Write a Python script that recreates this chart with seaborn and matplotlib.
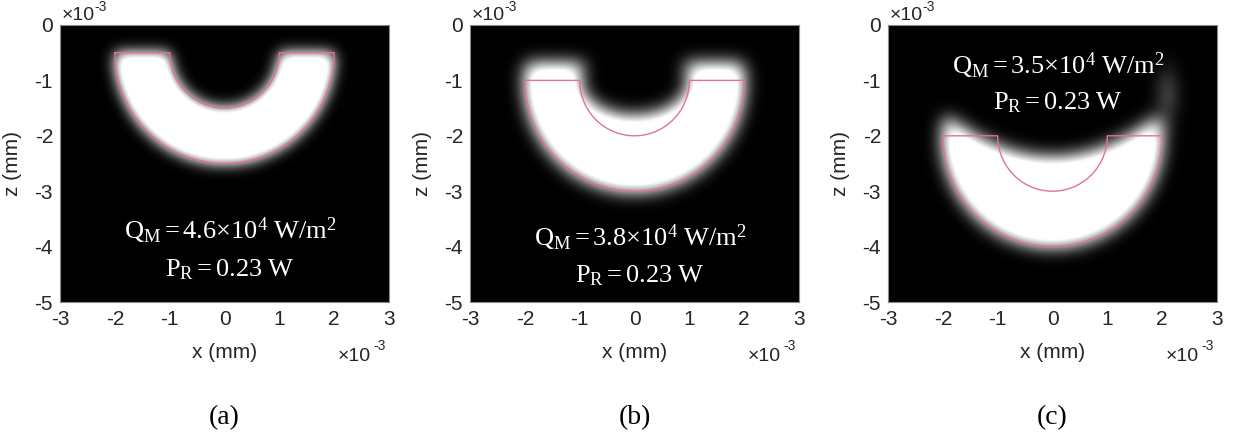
import numpy as np
import matplotlib
matplotlib.use("Agg")
import matplotlib.pyplot as plt
import seaborn as sns

# ---- geometry of the heated half-ring (mm) ----
panel_tags = ["(a)", "(b)", "(c)"]
ring_center_z = [-0.5, -1.0, -2.0]
ring_r_inner = 1.0
ring_r_outer = 2.0

# ---- temperature-field description per case ----
heat_top_z0 = [-0.50, -0.70, -2.40]     # upper cutoff of hot zone at x = 0
heat_top_curv = [0.0, 0.0, 0.20]        # curvature of that cutoff
heat_hole_ax = [1.00, 1.00, 0.00]       # cold core half-width
heat_hole_az = [1.00, 0.65, 0.00]       # cold core half-height
heat_blur = [0.13, 0.16, 0.16]          # edge softness (mm)
side_glow = [0.0, 0.0, 0.17]            # faint plume at right edge

# ---- labels ----
q_max = ["4.6", "3.8", "3.5"]
p_r = ["0.23", "0.23", "0.23"]
label_z = [(-3.72, -4.42), (-3.84, -4.52), (-0.74, -1.40)]

x_ticks = [-3, -2, -1, 0, 1, 2, 3]
z_ticks = [-5, -4, -3, -2, -1, 0]

sns.set_theme(style="white")
plt.rcParams["font.family"] = ["Liberation Sans", "DejaVu Sans"]
plt.rcParams["axes.unicode_minus"] = False
plt.rcParams["mathtext.fontset"] = "custom"
plt.rcParams["mathtext.rm"] = "Liberation Serif"
plt.rcParams["mathtext.it"] = "Liberation Serif:italic"

xg = np.linspace(-3, 3, 601)
zg = np.linspace(-5, 0, 501)
X, Z = np.meshgrid(xg, zg)
step = xg[1] - xg[0]


def gaussian_blur(img, sigma):
    s = sigma / step
    r = int(4 * s) + 1
    t = np.arange(-r, r + 1)
    k = np.exp(-0.5 * (t / s) ** 2)
    k /= k.sum()
    pad = np.pad(img, r, mode="constant")
    pad = np.apply_along_axis(lambda m: np.convolve(m, k, mode="same"), 0, pad)
    pad = np.apply_along_axis(lambda m: np.convolve(m, k, mode="same"), 1, pad)
    return pad[r:-r, r:-r]


def heat_field(i):
    zc = ring_center_z[i]
    inside_outer = X ** 2 + (Z - zc) ** 2 <= ring_r_outer ** 2
    below_top = Z <= heat_top_z0[i] + heat_top_curv[i] * X ** 2
    if heat_hole_ax[i] > 0:
        hole = (X / heat_hole_ax[i]) ** 2 + ((Z - zc) / heat_hole_az[i]) ** 2 <= 1
    else:
        hole = np.zeros_like(X, dtype=bool)
    region = (inside_outer & below_top & ~hole).astype(float)
    f = gaussian_blur(region, heat_blur[i])
    if side_glow[i] > 0:
        f += side_glow[i] * np.exp(-0.5 * (((X - 2.1) / 0.17) ** 2 + ((Z + 1.25) / 0.35) ** 2))
    return np.clip(f * 1.3, 0, 1)


def ring_outline(zc):
    a_in = np.linspace(np.pi, 2 * np.pi, 120)
    a_out = np.linspace(0, -np.pi, 240)
    xs = np.concatenate([[-ring_r_outer], ring_r_inner * np.cos(a_in),
                         [ring_r_outer], ring_r_outer * np.cos(a_out)])
    zs = np.concatenate([[zc], zc + ring_r_inner * np.sin(a_in),
                         [zc], zc + ring_r_outer * np.sin(a_out)])
    return xs, zs


fig = plt.figure(figsize=(12.39, 4.46), dpi=100)
lefts = [60, 470, 888]
W, H = 1239.0, 446.0
tick_col = "#262626"

for i in range(3):
    ax = fig.add_axes([lefts[i] / W, 1 - 302 / H, 329 / W, 277 / H])
    ax.imshow(heat_field(i), cmap="gray", vmin=0, vmax=1, origin="lower",
              extent=[-3, 3, -5, 0], aspect="auto", interpolation="bilinear")
    xs, zs = ring_outline(ring_center_z[i])
    sns.lineplot(x=xs, y=zs, sort=False, estimator=None, color="#e0709f",
                 lw=1.0, ax=ax, legend=False)
    ax.set_xlim(-3, 3)
    ax.set_ylim(-5, 0)
    ax.set_xticks(x_ticks)
    ax.set_yticks(z_ticks)
    ax.set_xticklabels([str(v) for v in x_ticks])
    ax.set_yticklabels([str(v) for v in z_ticks])
    ax.tick_params(length=0, labelsize=15, colors=tick_col)
    ax.tick_params(axis="x", pad=6)
    ax.tick_params(axis="y", pad=5)
    for sp in ax.spines.values():
        sp.set_color("#8c8c8c")
        sp.set_linewidth(0.8)
    ax.set_xlabel("x (mm)", fontsize=15, color=tick_col, va="center")
    ax.xaxis.set_label_coords(0.5, -51 / 277)
    ax.set_ylabel("z (mm)", fontsize=15, color=tick_col, va="center")
    ax.yaxis.set_label_coords(-47 / 329, 0.5)

    # scale multipliers
    ax.annotate("×10", xy=(0, 1), xycoords="axes fraction", xytext=(1.5, 7),
                textcoords="offset points", fontsize=14, color=tick_col,
                ha="left", va="center")
    ax.annotate("-3", xy=(0, 1), xycoords="axes fraction", xytext=(25, 13),
                textcoords="offset points", fontsize=10, color=tick_col,
                ha="left", va="center")
    ax.annotate("×10", xy=(1, 0), xycoords="axes fraction", xytext=(-37, -39),
                textcoords="offset points", fontsize=14, color=tick_col,
                ha="left", va="center")
    ax.annotate("-3", xy=(1, 0), xycoords="axes fraction", xytext=(-11.5, -32),
                textcoords="offset points", fontsize=10, color=tick_col,
                ha="left", va="center")

    z1, z2 = label_z[i]
    ax.text(0.1, z1, r"$\mathrm{Q_M = %s{\times}10^4\ W/m^2}$" % q_max[i],
            color="white", fontsize=19, ha="center", va="center")
    ax.text(0.1, z2, r"$\mathrm{P_R = %s\ W}$" % p_r[i],
            color="white", fontsize=19, ha="center", va="center")

    fig.text((lefts[i] + 164.5) / W, 1 - 418 / H, panel_tags[i],
             fontsize=20, family="Liberation Serif", ha="center", va="center",
             color="black")

fig.savefig("out.png", dpi=100, facecolor="white")
